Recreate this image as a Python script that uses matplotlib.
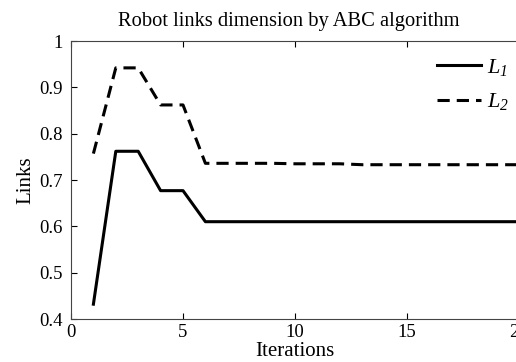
import matplotlib
matplotlib.use("Agg")
import matplotlib.pyplot as plt

# iteration numbers and link values
iteraciones = list(range(1, 21))
l1 = [0.432, 0.762, 0.762, 0.677, 0.677, 0.610, 0.610, 0.610, 0.610, 0.610,
      0.610, 0.610, 0.610, 0.610, 0.610, 0.610, 0.610, 0.610, 0.610, 0.610]
l2 = [0.757, 0.942, 0.942, 0.862, 0.862, 0.736, 0.736, 0.736, 0.736, 0.735,
      0.735, 0.735, 0.733, 0.733, 0.733, 0.733, 0.733, 0.733, 0.733, 0.733]

plt.rcParams['font.family'] = ['Liberation Serif', 'DejaVu Serif']
# only the legend uses mathtext: L and its subscript both italic
plt.rcParams['mathtext.fontset'] = 'custom'
plt.rcParams['mathtext.it'] = 'Liberation Serif:italic'
plt.rcParams['mathtext.rm'] = 'Liberation Serif:italic'

fig = plt.figure(figsize=(5.16, 3.62), dpi=100)
# axes run a little past the right edge, as in the cropped original
ax = fig.add_axes([71 / 516, 1 - 319 / 362, 448 / 516, 278 / 362])

ax.plot(iteraciones, l1, color='black', lw=2.2, label=r'$L_1$')
ax.plot(iteraciones, l2, color='black', lw=2.2, ls=(0, (4, 2.3)),
        label=r'$L_2$')

ax.set_xlim(0, 20)
ax.set_ylim(0.4, 1)
ax.set_xticks([0, 5, 10, 15, 20])
ax.set_yticks([0.4, 0.5, 0.6, 0.7, 0.8, 0.9, 1])
ax.set_yticklabels(['0.4', '0.5', '0.6', '0.7', '0.8', '0.9', '1'])
ax.tick_params(direction='in', top=True, right=False, labelsize=13.5, length=4)
ax.tick_params(axis='y', pad=6)
for s in ax.spines.values():
    s.set_color('#444444')

ax.set_title('Robot links dimension by ABC algorithm', fontsize=14.8, pad=11,
             x=0.487)
ax.set_xlabel('Iterations', fontsize=15, labelpad=1)
ax.set_ylabel('Links', fontsize=15, labelpad=3)

ax.legend(loc='upper right', bbox_to_anchor=(1.022, 1.016), frameon=False,
          fontsize=16, handlelength=2.0, handletextpad=0.25, labelspacing=0.62)

fig.savefig('out.png', dpi=100)
